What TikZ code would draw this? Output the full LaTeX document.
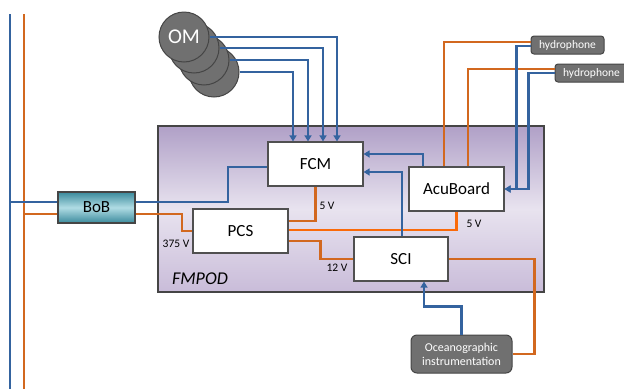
\documentclass[tikz,border=0pt]{standalone}
\usepackage{fontspec}
\setmainfont{Carlito}
\usetikzlibrary{arrows.meta,calc}
\definecolor{cblue}{HTML}{34639F}
\definecolor{corange}{HTML}{D2681F}
\definecolor{cbright}{HTML}{FA6A0A}
\definecolor{boxborder}{HTML}{505050}
\definecolor{gfill}{HTML}{707070}
\definecolor{gborder}{HTML}{454545}
\definecolor{fmtop}{HTML}{B0A0C7}
\definecolor{fmmid}{HTML}{E8E3EF}
\definecolor{fmbot}{HTML}{C9BCD9}
\definecolor{bobdark}{HTML}{3A8A9C}
\definecolor{boblight}{HTML}{B0DCE4}
\begin{document}
\begin{tikzpicture}[x=1pt,y=-1pt,
  wire/.style={line width=2.3pt},
  bw/.style={wire,draw=cblue},
  ow/.style={wire,draw=corange},
  brw/.style={wire,draw=cbright},
  arr/.style={-{Triangle[length=6pt,width=7pt]}},
  box/.style={draw=boxborder,line width=1.2pt,fill=white,minimum width=95pt,minimum height=44pt,inner sep=0pt,font=\fontsize{17}{19}\selectfont},
  om/.style={circle,minimum size=50pt,inner sep=0pt,fill=gfill,draw=gborder,line width=1pt,text=white,font=\fontsize{21}{24}\selectfont},
  hyd/.style={rounded corners=3pt,fill=gfill,draw=gborder,line width=1pt,text=white,minimum width=73pt,minimum height=18pt,inner sep=0pt,font=\fontsize{11.5}{13}\selectfont},
  volt/.style={inner sep=0pt,font=\fontsize{11.5}{13}\selectfont}]
\useasboundingbox (0,0) rectangle (624,389);

% FMPOD container
\node[draw=gborder,line width=2pt,top color=fmtop,bottom color=fmbot,middle color=fmmid,minimum width=386pt,minimum height=166pt,inner sep=0pt] (fmpod) at (351,209) {};
\node[inner sep=0pt,font=\fontsize{18}{20}\selectfont\itshape] (fmlabel) at (200,279) {FMPOD};

% backbone
\coordinate (bt) at (10,14);
\coordinate (bb) at (10,389);
\coordinate (ot) at (24,14);
\coordinate (ob) at (24,389);
\draw[bw] (bt) -- (bb);
\draw[ow] (ot) -- (ob);

% OM modules
\node[om] (om4) at (214,72) {};
\node[om] (om3) at (204,60) {};
\node[om] (om2) at (194,48) {};
\node[om] (om1) at (184,37) {OM};

% main boxes
\node[box] (fcm) at (315.5,164) {FCM};
\node[box] (pcs) at (240.5,231) {PCS};
\node[box,minimum width=94pt] (sci) at (401,259) {SCI};
\node[box] (acu) at (456.5,189) {AcuBoard};
\node[draw=gborder,line width=1.5pt,top color=bobdark,bottom color=bobdark,middle color=boblight,minimum width=77pt,minimum height=31pt,inner sep=0pt,font=\fontsize{17}{19}\selectfont] (bob) at (96.5,207.5) {BoB};

% hydrophones and instrumentation
\node[hyd] (hyd1) at (567.5,45) {hydrophone};
\node[hyd] (hyd2) at (591.5,73) {hydrophone};
\node[rounded corners=6pt,fill=gfill,draw=gborder,line width=1pt,text=white,minimum width=101pt,minimum height=38pt,inner sep=0pt,align=center,font=\fontsize{12}{14}\selectfont] (ocean) at (461.5,354) {Oceanographic\\instrumentation};

% OM to FCM
\draw[bw,arr] (om1.east) -| ([xshift=21.5pt]fcm.north);
\draw[bw,arr] (om2.east) -| ([xshift=7.5pt]fcm.north);
\draw[bw,arr] (om3.east) -| ([xshift=-7.5pt]fcm.north);
\draw[bw,arr] (om4.east) -| ([xshift=-22.5pt]fcm.north);

% backbone to BoB
\draw[bw] ([yshift=5.5pt]bob.west) -- ++(-48,0);
\draw[ow] ([yshift=-6.5pt]bob.west) -- ++(-34,0);

% BoB to FCM / PCS
\draw[bw] ([yshift=5.5pt]bob.east) -- ++(92,0) |- ([yshift=-3pt]fcm.west);
\draw[ow] ([yshift=-6.5pt]bob.east) -- ++(46,0) |- (pcs.west);

% power
\draw[ow] (fcm.south) |- ([yshift=10pt]pcs.east);
\draw[brw] ([yshift=1pt]pcs.east) -| (acu.south);
\draw[ow] ([yshift=-10pt]pcs.east) -- ++(32,0) |- (sci.west);
\draw[ow] (sci.east) -- ++(86,0) |- (ocean.east);
\draw[ow] ([yshift=3pt]hyd1.west) -| ([xshift=-12.5pt]acu.north);
\draw[ow] ([yshift=4pt]hyd2.west) -| ([xshift=11.5pt]acu.north);

% data
\draw[bw,arr] ([yshift=-1pt]hyd1.west) -- ++(-14,0) |- (acu.east);
\draw[bw,arr] (hyd2.west) -- ++(-26,0) |- (acu.east);
\draw[bw,arr] ([xshift=-33.5pt]acu.north) |- ([yshift=10pt]fcm.east);
\draw[bw,arr] ([xshift=1pt]sci.north) |- ([yshift=-8pt]fcm.east);
\draw[bw,arr] (ocean.north) -- ++(0,-28) -| ([xshift=23pt]sci.south);

% voltage labels
\node[volt] (v1) at (327,206) {5 V};
\node[volt] (v2) at (474,224) {5 V};
\node[volt] (v3) at (337,268) {12 V};
\node[volt] (v4) at (176,244) {375 V};
\end{tikzpicture}
\end{document}
